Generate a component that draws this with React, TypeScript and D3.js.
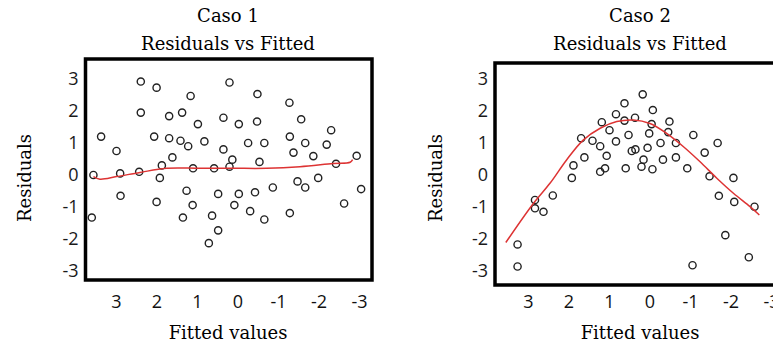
import * as d3 from 'd3';

// Caso 1: fitted value, residual (no pattern)
const fitted1 = [3.57, 3.61, 3.38, 3.0, 2.91, 2.9, 2.44, 2.4, 2.4, 2.07, 2.01, 2.01, 1.93, 1.88, 1.7, 1.7, 1.62,
  1.42, 1.38, 1.36, 1.27, 1.23, 1.17, 1.12, 1.11, 0.99, 0.83, 0.72, 0.64, 0.59, 0.49, 0.49, 0.36, 0.36, 0.21,
  0.21, 0.14, 0.09, -0.02, -0.02, -0.25, -0.3, -0.42, -0.48, -0.47, -0.53, -0.65, -0.65, -0.86, -1.27, -1.28,
  -1.28, -1.37, -1.47, -1.56, -1.66, -1.66, -1.86, -1.98, -2.19, -2.3, -2.42, -2.62, -2.93, -3.04];
const resid1 = [0.0, -1.33, 1.2, 0.75, 0.05, -0.65, 0.1, 2.92, 1.95, 1.2, 2.73, -0.84, -0.09, 0.3, 1.84, 1.15, 0.55,
  1.07, 1.95, -1.33, -0.49, 0.9, 2.47, -0.94, 0.21, 1.59, 1.05, -2.13, -1.27, 0.21, -1.73, -0.59, 0.8, 1.79, 2.89,
  0.26, 0.48, -0.94, 1.59, -0.59, 1.0, -1.13, -0.54, 2.53, 1.67, 0.41, 1.0, -1.39, -0.39, 2.26, 1.2,
  -1.19, 0.7, -0.2, 1.74, 1.0, -0.39, 0.59, -0.09, 0.95, 1.4, 0.35, -0.89, 0.6, -0.44];
const smoothX1 = [3.57, 3.41, 3.0, 2.42, 1.76, 0.94, 0.12, -0.71, -1.53, -2.35, -2.77, -2.83];
const smoothY1 = [-0.05, -0.13, -0.05, 0.08, 0.21, 0.21, 0.21, 0.21, 0.26, 0.36, 0.4, 0.48];

// Caso 2: fitted value, residual (curved pattern)
const fitted2 = [3.27, 3.27, 2.84, 2.84, 2.63, 2.4, 1.93, 1.89, 1.7, 1.62, 1.42, 1.23, 1.23, 1.19, 1.11, 1.07, 1.0,
  0.84, 0.84, 0.63, 0.63, 0.6, 0.53, 0.45, 0.36, 0.37, 0.21, 0.18, 0.16, 0.06, 0.02, -0.04, -0.06, -0.07, -0.26,
  -0.32, -0.45, -0.48, -0.64, -0.64, -0.92, -1.05, -1.07, -1.35, -1.47, -1.67, -1.7, -1.86, -2.06, -2.08, -2.44, -2.58];
const resid2 = [-2.17, -2.86, -0.78, -1.04, -1.15, -0.64, -0.09, 0.3, 1.15, 0.55, 1.07, 0.9, 0.1, 1.65, 0.21, 0.6, 1.4,
  1.9, 1.05, 2.24, 1.7, 0.21, 1.25, 0.75, 0.8, 1.79, 0.26, 2.52, 0.48, 0.85, 1.3, 1.59, 0.18, 2.03, 1.0,
  0.48, 1.34, 1.67, 1.0, 0.55, 0.21, -2.82, 1.25, 0.7, -0.04, 1.0, -0.65, -1.88, -0.09, -0.84, -2.57, -0.99];
const smoothX2 = [3.56, 2.88, 2.47, 2.06, 1.65, 1.23, 0.82, 0.41, 0, -0.41, -0.82, -1.23, -1.65, -2.06, -2.47, -2.7];
const smoothY2 = [-2.11, -0.89, -0.26, 0.47, 1.09, 1.46, 1.67, 1.72, 1.61, 1.3, 0.89, 0.42, -0.1, -0.57, -0.99, -1.25];

const ticks = [3, 2, 1, 0, -1, -2, -3];

const serif = 'DejaVu Serif';
const sans = 'Open Sans';

function Panel({ caso, fx, rs, sx, sy, x0, box, cx, ylab }) {
  const x = d3.scaleLinear().domain([3, -3]).range([x0, x0 + 243]);
  const y = d3.scaleLinear().domain([3, -3]).range([79, 271]);
  const line = d3.line().x(d => x(d[0])).y(d => y(d[1])).curve(d3.curveCatmullRom);
  const pts = fx.map((v, i) => [v, rs[i]]);
  const smooth = sx.map((v, i) => [v, sy[i]]);
  return (
    <g>
      <text x={cx} y={22} textAnchor="middle" fontFamily={serif} fontSize={18} fill="#000">{caso}</text>
      <text x={cx} y={50} textAnchor="middle" fontFamily={serif} fontSize={18} fill="#000">Residuals vs Fitted</text>
      <rect x={box[0]} y={box[1]} width={box[2] - box[0]} height={box[3] - box[1]} fill="none" stroke="#000" strokeWidth={3.5} />
      {pts.map((p, i) => (
        <circle key={i} cx={x(p[0])} cy={y(p[1])} r={3.6} fill="none" stroke="#222" strokeWidth={1.4} />
      ))}
      <path d={line(smooth)} fill="none" stroke="#d33" strokeWidth={1.5} />
      {ticks.map(t => (
        <text key={'y' + t} x={box[0] - 7} y={y(t)} dy="0.35em" textAnchor="end" fontFamily={sans} fontSize={18} fill="#1a1a1a">{t}</text>
      ))}
      {ticks.map(t => (
        <text key={'x' + t} x={x(t)} y={308} textAnchor="middle" fontFamily={sans} fontSize={18} fill="#111">{t}</text>
      ))}
      <text x={cx} y={339} textAnchor="middle" fontFamily={serif} fontSize={18} fill="#000">Fitted values</text>
      <text transform={`translate(${ylab},178) rotate(-90)`} textAnchor="middle" fontFamily={serif} fontSize={18} fill="#000">Residuals</text>
    </g>
  );
}

export default function App() {
  return (
    <svg width={773} height={344} style={{ position: 'absolute', left: 0, top: 0, background: '#fff' }}>
      <Panel caso="Caso 1" fx={fitted1} rs={resid1} sx={smoothX1} sy={smoothY1} x0={116.5}
        box={[85.5, 59, 372, 280]} cx={228} ylab={31} />
      <Panel caso="Caso 2" fx={fitted2} rs={resid2} sx={smoothX2} sy={smoothY2} x0={528.5}
        box={[495, 63, 790, 285]} cx={640} ylab={442} />
    </svg>
  );
}
